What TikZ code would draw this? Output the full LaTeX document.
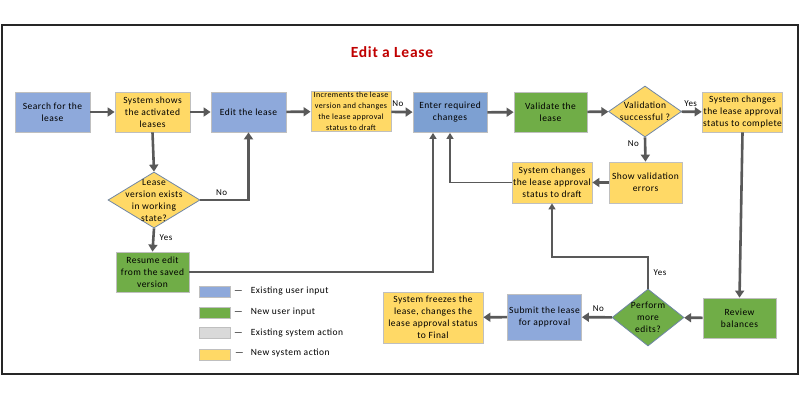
\documentclass[tikz,border=0pt]{standalone}
\usepackage{fontspec}
\setmainfont{Carlito}[LetterSpace=5]
\usetikzlibrary{arrows.meta,shapes.geometric}

\definecolor{olduser}{HTML}{8EA9DB}
\definecolor{enterblue}{HTML}{7DA0D2}
\definecolor{newuser}{HTML}{70AD47}
\definecolor{oldsys}{HTML}{D9D9D9}
\definecolor{newsys}{HTML}{FFD966}
\definecolor{boxline}{HTML}{BFBFBF}
\definecolor{diamline}{HTML}{6F86A6}
\definecolor{arrowgray}{HTML}{595959}
\definecolor{titlered}{HTML}{C00000}

\begin{document}
\begin{tikzpicture}[
  x=1pt, y=-1pt,
  box/.style={draw=boxline, line width=0.8pt, align=center, inner sep=1pt, minimum width=75pt, minimum height=40pt, font=\fontsize{9.5}{12}\selectfont},
  decision/.style={diamond, draw=diamline, line width=0.8pt, inner sep=0pt},
  dtext/.style={align=center, font=\fontsize{9.5}{12}\selectfont},
  swatch/.style={draw=boxline, line width=0.8pt, minimum width=31pt, minimum height=11pt, inner sep=0pt},
  keytext/.style={anchor=west, font=\fontsize{9.5}{11}\selectfont, inner sep=0pt},
  flow/.style={draw=arrowgray, line width=2.6pt, -{Triangle[length=7pt,width=9pt]}},
  thinflow/.style={draw=arrowgray, line width=1.4pt, -{Triangle[length=6pt,width=7pt]}},
  answer/.style={font=\fontsize{9}{10}\selectfont, inner sep=1pt}
]
\useasboundingbox (0,0) rectangle (800,400);
\draw[line width=2pt, draw=black!85] (2,25) rectangle (798,374);

\node[font=\fontsize{15.5}{17}\selectfont\bfseries, text=titlered] (title) at (392,52) {Edit a Lease};

% top row
\node[box, fill=olduser] (search) at (52.5,112) {Search for the\\lease};
\node[box, fill=newsys] (shows) at (152.5,112) {System shows\\the activated\\leases};
\node[box, fill=olduser] (edit) at (248.5,112) {Edit the lease};
\node[box, fill=newsys, minimum width=80pt, inner sep=0pt, font=\fontsize{8}{11}\selectfont] (bump) at (351,111.5) {Increments the lease\\version and changes\\the lease approval\\status to draft};
\node[box, fill=enterblue, minimum width=74pt] (enter) at (450,112.5) {Enter required\\changes};
\node[box, fill=newuser, minimum width=73pt] (validate) at (550.5,112) {Validate the\\lease};
\node[decision, fill=newsys, minimum width=73pt, minimum height=51pt,
  label={[dtext]center:Validation\\successful ?}] (valid) at (645,111.5) {};
\node[box, fill=newsys, minimum width=79pt] (complete) at (742.5,112) {System changes\\the lease approval\\status to complete};

% middle
\node[box, fill=newsys, minimum width=73pt, minimum height=41pt] (errors) at (645.5,182.5) {Show validation\\errors};
\node[box, fill=newsys, minimum width=80pt, minimum height=41pt] (redraft) at (552,182.5) {System changes\\the lease approval\\status to draft};
\node[decision, fill=newsys, minimum width=92pt, minimum height=56pt,
  label={[dtext]center:Lease\\version exists\\in working\\state?}] (exists) at (154,200) {};
\node[box, fill=newuser, minimum width=73pt] (resume) at (152.5,272) {Resume edit\\from the saved\\version};

% bottom row
\node[box, fill=newsys, minimum width=100pt, minimum height=51pt] (freeze) at (433,317.5) {System freezes the\\lease, changes the\\lease approval status\\to Final};
\node[box, fill=olduser, minimum width=74pt, minimum height=46pt] (submit) at (544.5,317) {Submit the lease\\for approval};
\node[decision, fill=newuser, minimum width=72pt, minimum height=57pt,
  label={[dtext]center:Perform\\more\\edits?}] (more) at (648,317.5) {};
\node[box, fill=newuser, minimum width=73pt] (review) at (739.5,318) {Review\\balances};

% legend
\node[swatch, fill=olduser] (keyold) at (214.5,291.5) {};
\node[swatch, fill=newuser] (keynew) at (214.5,312.5) {};
\node[swatch, fill=oldsys] (keyoldsys) at (214.5,333) {};
\node[swatch, fill=newsys] (keynewsys) at (214.5,354.5) {};
\node[keytext] (keyoldtxt) at (234,291) {—\hspace{8pt}Existing user input};
\node[keytext] (keynewtxt) at (234,312) {—\hspace{8pt}New user input};
\node[keytext] (keyoldsystxt) at (234,333) {—\hspace{8pt}Existing system action};
\node[keytext] (keynewsystxt) at (235,353) {—\hspace{7pt}New system action};

% connectors
\draw[flow] (search) -- (shows);
\draw[flow] (shows) -- (edit);
\draw[flow] (edit) -- (bump);
\draw[flow] (bump) -- node[answer, pos=0.3, above=3pt] {No} (enter);
\draw[flow] (enter) -- (validate);
\draw[flow] (validate) -- (valid);
\draw[flow] (valid) -- node[answer, pos=0.45, above=3pt] {Yes} (complete);
\draw[flow] (valid.south) -- node[answer, pos=0.25, left=4pt] {No} (errors.north);
\draw[flow] (errors) -- (redraft);
\draw[thinflow] (redraft.west) -| (enter.south);
\draw[flow] (shows.south) -- (exists.north);
\draw[flow] (exists.east) -| node[answer, pos=0.22, above=2pt] {No} (edit.south);
\draw[flow] (exists.south) -- node[answer, pos=0.4, right=4pt] {Yes} (resume.north);
\draw[thinflow] (resume.east) -| ([xshift=-17pt]enter.south);
\draw[flow] (complete.south) -- (review.north);
\draw[flow] (review) -- (more);
\draw[flow] (more) -- node[answer, pos=0.45, above=3pt] {No} (submit);
\draw[flow] (submit) -- (freeze);
\coordinate (yesturn) at (648,257);
\draw[thinflow] (more.north) -- node[answer, pos=0.5, right=4pt] {Yes} (yesturn) -| (redraft.south);
\end{tikzpicture}
\end{document}
